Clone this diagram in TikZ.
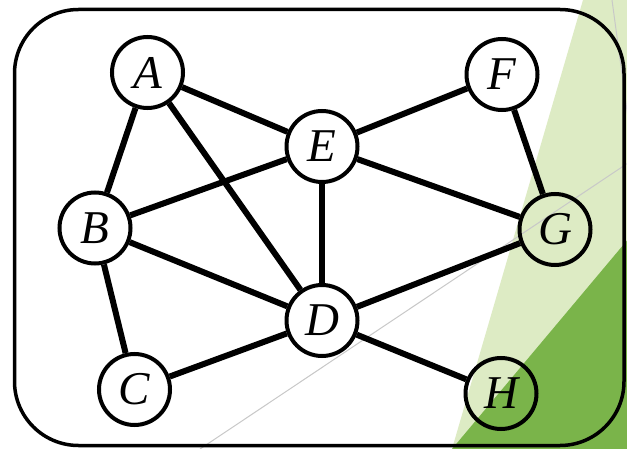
\documentclass[tikz,border=0pt]{standalone}
\usepackage{fontspec}
\setmainfont{Liberation Serif}
\definecolor{lightgr}{RGB}{221,235,196}
\definecolor{darkgr}{RGB}{122,180,74}
\definecolor{thingray}{RGB}{200,200,200}
\tikzset{
  vtx/.style={circle,draw=black,line width=4pt,minimum size=71pt,inner sep=0pt,font=\fontsize{47}{47}\selectfont\itshape},
  edg/.style={line width=6pt},
  frame/.style={draw=black,line width=3.5pt,rounded corners=64pt}
}
\begin{document}
\begin{tikzpicture}[x=1pt,y=-1pt]
\useasboundingbox (0,0) rectangle (627,449);
\begin{scope}
\clip (0,0) rectangle (627,449);
\fill[white] (0,0) rectangle (627,449);
\fill[lightgr] (583,0) -- (452,449) -- (640,449) -- (640,0) -- cycle;
\fill[darkgr] (452,449) -- (640,225) -- (640,449) -- cycle;
\draw[thingray,line width=1pt] (200,449) -- (640,155);
\draw[thingray,line width=1pt] (612,0) -- (628,118);
\draw[frame] (14.5,9.5) rectangle (624,445.5);
\end{scope}
\node[vtx] (A) at (147.5,72.5) {A};
\node[vtx] (E) at (322,146.5) {E};
\node[vtx] (F) at (502,74.5) {F};
\node[vtx] (B) at (95,228) {B};
\node[vtx] (G) at (555,229.5) {G};
\node[vtx] (D) at (322,320.5) {D};
\node[vtx] (C) at (134.5,389.5) {C};
\node[vtx] (H) at (501,393.5) {H};
\draw[edg] (A) -- (E);
\draw[edg] (A) -- (B);
\draw[edg] (A) -- (D);
\draw[edg] (E) -- (F);
\draw[edg] (E) -- (B);
\draw[edg] (E) -- (G);
\draw[edg] (E) -- (D);
\draw[edg] (F) -- (G);
\draw[edg] (B) -- (D);
\draw[edg] (B) -- (C);
\draw[edg] (D) -- (G);
\draw[edg] (D) -- (C);
\draw[edg] (D) -- (H);
\end{tikzpicture}
\end{document}
